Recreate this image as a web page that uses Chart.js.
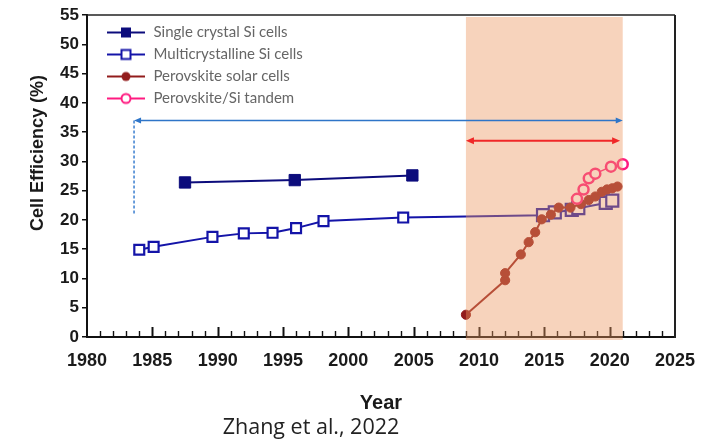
<!DOCTYPE html>
<html>
<head>
<meta charset="utf-8">
<script src="https://cdn.jsdelivr.net/npm/chart.js@4.4.0/dist/chart.umd.min.js"></script>
<style>
  html, body { margin: 0; padding: 0; background: #fff; }
  #wrap { width: 702px; height: 441px; }
</style>
</head>
<body>
<div id="wrap"><canvas id="c" width="702" height="441"></canvas></div>
<script>
// values
const singleYears = [1987.5, 1995.9, 2004.9];
const singleEff   = [26.4, 26.8, 27.6];

const multiYears = [1984.0, 1985.1, 1989.6, 1992.0, 1994.2, 1996.0, 1998.1, 2004.2,
                    2014.9, 2015.8, 2017.1, 2017.6, 2019.7, 2020.2];
const multiEff   = [14.9, 15.4, 17.1, 17.7, 17.8, 18.6, 19.8, 20.4,
                    20.8, 21.3, 21.7, 22.0, 22.9, 23.3];

const perovYears = [2009.0, 2012.0, 2012.0, 2013.2, 2013.8, 2014.3, 2014.8, 2015.5,
                    2016.1, 2017.0, 2017.8, 2018.4, 2018.9, 2019.4, 2019.8, 2020.2, 2020.6];
const perovEff   = [3.8, 9.7, 10.9, 14.1, 16.2, 17.9, 20.1, 20.9,
                    22.1, 22.1, 22.7, 23.4, 24.0, 24.8, 25.2, 25.4, 25.7];

const tandemYears = [2017.5, 2018.0, 2018.4, 2018.9, 2020.1, 2021.0];
const tandemEff   = [23.6, 25.2, 27.1, 27.9, 29.1, 29.5];

const seriesNames = ['Single crystal Si cells', 'Multicrystalline Si cells',
                     'Perovskite solar cells', 'Perovskite/Si tandem'];

const xRange = [1980, 2025];
const yRange = [0, 55];

// annotations
const shadeYears = [2009, 2021];
const blueArrowYears = [1983.6, 2021.0];
const blueArrowEff = 37;
const dashYear = 1983.6;
const dashEff = [21, 37];
const redArrowYears = [2009.0, 2020.8];
const redArrowEff = 33.5;

const NAVY = '#0c0c7c';
const BLUE = '#1414a8';
const BROWN = '#921c1c';
const PINK = '#ff1a80';

function pts(xs, ys) { return xs.map((x, i) => ({ x: x, y: ys[i] })); }

// legend swatch: line with marker
function swatch(color, kind) {
  const c = document.createElement('canvas');
  c.width = 52; c.height = 16;
  const g = c.getContext('2d');
  g.strokeStyle = color; g.lineWidth = 2;
  g.beginPath(); g.moveTo(13, 8); g.lineTo(51, 8); g.stroke();
  if (kind === 'fsq') { g.fillStyle = color; g.fillRect(27, 3, 10, 10); }
  if (kind === 'osq') { g.fillStyle = '#fff'; g.fillRect(27.5, 3.5, 9, 9); g.strokeRect(27.5, 3.5, 9, 9); }
  if (kind === 'fci') { g.fillStyle = color; g.beginPath(); g.arc(32, 8, 4.5, 0, Math.PI * 2); g.fill(); }
  if (kind === 'oci') { g.fillStyle = '#fff'; g.beginPath(); g.arc(32, 8, 4.5, 0, Math.PI * 2); g.fill(); g.stroke(); }
  return c;
}
const swatches = [swatch(NAVY, 'fsq'), swatch(BLUE, 'osq'), swatch(BROWN, 'fci'), swatch(PINK, 'oci')];

function arrow(ctx, x1, x2, y, color, lw, head) {
  ctx.save();
  ctx.strokeStyle = color; ctx.fillStyle = color; ctx.lineWidth = lw;
  ctx.beginPath(); ctx.moveTo(x1 + head, y); ctx.lineTo(x2 - head, y); ctx.stroke();
  ctx.beginPath(); ctx.moveTo(x1, y); ctx.lineTo(x1 + head + 1, y - head / 2); ctx.lineTo(x1 + head + 1, y + head / 2); ctx.closePath(); ctx.fill();
  ctx.beginPath(); ctx.moveTo(x2, y); ctx.lineTo(x2 - head - 1, y - head / 2); ctx.lineTo(x2 - head - 1, y + head / 2); ctx.closePath(); ctx.fill();
  ctx.restore();
}

const decor = {
  id: 'decor',
  beforeDatasetsDraw(chart) {
    // inward year ticks on the x axis
    const ctx = chart.ctx, xs = chart.scales.x, a = chart.chartArea;
    ctx.save();
    ctx.strokeStyle = '#111';
    for (let yr = xRange[0] + 1; yr < xRange[1]; yr++) {
      const px = Math.round(xs.getPixelForValue(yr)) + 0.5;
      const major = yr % 5 === 0;
      ctx.lineWidth = major ? 2 : 1.4;
      ctx.beginPath(); ctx.moveTo(px, a.bottom); ctx.lineTo(px, a.bottom - (major ? 10 : 6)); ctx.stroke();
    }
    ctx.restore();
  },
  afterDatasetsDraw(chart) {
    const ctx = chart.ctx, xs = chart.scales.x, ys = chart.scales.y, a = chart.chartArea;
    // shaded period, laid over the series and axis
    const s0 = xs.getPixelForValue(shadeYears[0]), s1 = xs.getPixelForValue(shadeYears[1]);
    ctx.save();
    ctx.fillStyle = 'rgba(236,150,95,0.42)';
    ctx.fillRect(s0, a.top + 2, s1 - s0, a.bottom - a.top + 1);
    // frame top / right
    ctx.strokeStyle = '#222'; ctx.lineWidth = 1.5;
    ctx.beginPath(); ctx.moveTo(a.left, a.top); ctx.lineTo(a.right, a.top); ctx.stroke();
    ctx.lineWidth = 2;
    ctx.beginPath(); ctx.moveTo(a.right, a.top); ctx.lineTo(a.right, a.bottom + 1); ctx.stroke();
    // dashed marker line
    const dx = xs.getPixelForValue(dashYear);
    ctx.strokeStyle = '#3b7fd0'; ctx.lineWidth = 1.5; ctx.setLineDash([3, 2]);
    ctx.beginPath(); ctx.moveTo(dx, ys.getPixelForValue(dashEff[1])); ctx.lineTo(dx, ys.getPixelForValue(dashEff[0])); ctx.stroke();
    ctx.setLineDash([]);
    ctx.restore();
    arrow(ctx, xs.getPixelForValue(blueArrowYears[0]), xs.getPixelForValue(blueArrowYears[1]),
          ys.getPixelForValue(blueArrowEff), '#2e75c8', 1.5, 6);
    arrow(ctx, xs.getPixelForValue(redArrowYears[0]), xs.getPixelForValue(redArrowYears[1]),
          ys.getPixelForValue(redArrowEff), '#f02828', 2, 7);
  },
  afterDraw(chart) {
    const ctx = chart.ctx;
    ctx.save();
    ctx.fillStyle = '#1a1a1a';
    ctx.font = 'bold 18px "Liberation Sans", Arial, sans-serif';
    ctx.textAlign = 'center'; ctx.textBaseline = 'middle';
    ctx.translate(38, 153); ctx.rotate(-Math.PI / 2);
    ctx.fillText('Cell Efficiency (%)', 0, 0);
    ctx.restore();
    ctx.save();
    ctx.fillStyle = '#222';
    ctx.font = '21.5px "Open Sans", sans-serif';
    ctx.textAlign = 'center'; ctx.textBaseline = 'middle';
    ctx.fillText('Zhang et al., 2022', 311, 428);
    ctx.restore();
  }
};

new Chart(document.getElementById('c'), {
  type: 'scatter',
  data: {
    datasets: [
      {
        label: seriesNames[0], data: pts(singleYears, singleEff), showLine: true, order: 3,
        borderColor: NAVY, backgroundColor: NAVY, borderWidth: 2,
        pointStyle: 'rect', pointRadius: 8, pointBorderWidth: 1
      },
      {
        label: seriesNames[1], data: pts(multiYears, multiEff), showLine: true, order: 2,
        borderColor: BLUE, backgroundColor: '#fff', borderWidth: 2,
        pointStyle: 'rect', pointRadius: multiYears.map(y => y > shadeYears[0] ? 8.5 : 7),
        pointBorderWidth: 2.2
      },
      {
        label: seriesNames[2], data: pts(perovYears, perovEff), showLine: true, order: 1,
        borderColor: BROWN, backgroundColor: BROWN, borderWidth: 2,
        pointStyle: 'circle', pointRadius: 4.6, pointBorderWidth: 1
      },
      {
        label: seriesNames[3], data: pts(tandemYears, tandemEff), showLine: true, order: 0,
        borderColor: PINK, backgroundColor: '#fff', borderWidth: 1.5,
        pointStyle: 'circle', pointRadius: 5, pointBorderWidth: 2.5
      }
    ]
  },
  options: {
    responsive: false,
    animation: false,
    devicePixelRatio: 1,
    layout: { padding: { left: 0, top: 15, right: 27, bottom: 0 } },
    plugins: {
      tooltip: { enabled: false },
      legend: {
        position: 'chartArea',
        align: 'start',
        title: { display: true, text: ' ', padding: 0, font: { size: 15 } },
        labels: {
          usePointStyle: true,
          pointStyleWidth: 52,
          padding: 7,
          color: '#333',
          font: { family: 'Lato, sans-serif', size: 15 },
          generateLabels: (chart) => chart.data.datasets.map((d, i) => ({
            text: d.label, datasetIndex: i, pointStyle: swatches[i],
            fillStyle: d.borderColor, strokeStyle: d.borderColor, lineWidth: 0, hidden: false
          }))
        }
      }
    },
    scales: {
      x: {
        type: 'linear', min: xRange[0], max: xRange[1],
        afterFit: (s) => { s.height = 104; },
        grid: { display: false },
        border: { display: true, color: '#111', width: 2 },
        ticks: {
          stepSize: 5, padding: 5, color: '#1a1a1a',
          font: { family: '"Liberation Sans", Arial, sans-serif', size: 18, weight: 'bold' },
          callback: (v) => String(v)
        },
        title: {
          display: true, text: 'Year', color: '#1a1a1a',
          font: { family: '"Liberation Sans", Arial, sans-serif', size: 20, weight: 'bold' },
          padding: { top: 0, bottom: 26 }
        }
      },
      y: {
        min: yRange[0], max: yRange[1],
        afterFit: (s) => { s.width = 87; },
        grid: { display: true, drawOnChartArea: false, drawTicks: true, tickLength: 5, color: '#111', lineWidth: 1.5 },
        border: { display: true, color: '#111', width: 2 },
        ticks: {
          stepSize: 5, padding: 3, color: '#1a1a1a',
          font: { family: '"Liberation Sans", Arial, sans-serif', size: 17, weight: 'bold' }
        }
      }
    }
  },
  plugins: [decor]
});
</script>
</body>
</html>
